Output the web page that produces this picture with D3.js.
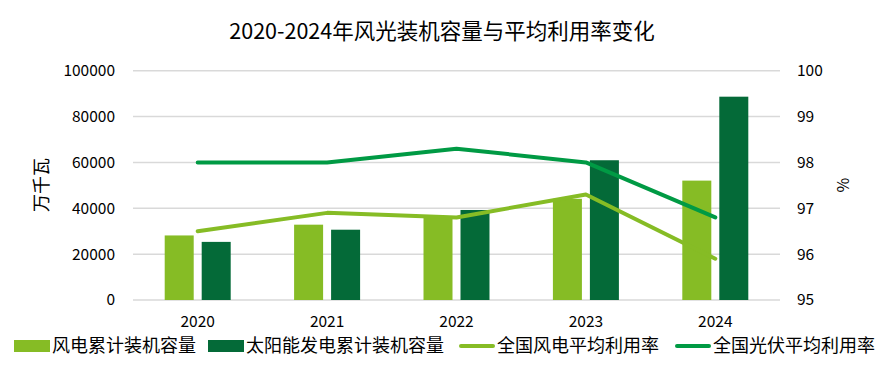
<!DOCTYPE html>
<html>
<head>
<meta charset="utf-8">
<script src="https://cdn.jsdelivr.net/npm/d3@7"></script>
<style>
  body { margin: 0; background: #fff; }
  text { font-family: "Noto Sans CJK SC", "Liberation Sans", sans-serif; fill: #000; }
</style>
</head>
<body>
<div id="chart"></div>
<script>
// Data
var years = ["2020", "2021", "2022", "2023", "2024"];
var windCapacity = [28153, 32848, 36544, 44134, 52068];
var solarCapacity = [25343, 30656, 39261, 60949, 88666];
var windRate = [96.5, 96.9, 96.8, 97.3, 95.9];
var solarRate = [98.0, 98.0, 98.3, 98.0, 96.8];
var leftTicks = [0, 20000, 40000, 60000, 80000, 100000];
var rightTicks = [95, 96, 97, 98, 99, 100];
var seriesNames = ["风电累计装机容量", "太阳能发电累计装机容量", "全国风电平均利用率", "全国光伏平均利用率"];

var svgWidth = 882;
var svgHeight = 378;

var margin = { top: 70.7, bottom: 78, left: 133, right: 102 };
var width = svgWidth - margin.left - margin.right;
var height = svgHeight - margin.top - margin.bottom;

var colWind = "#86bc25";
var colSolar = "#046a38";
var colPv = "#009a44";

var svg = d3.select("#chart")
    .append("svg")
    .attr("width", svgWidth)
    .attr("height", svgHeight);

// Title
svg.append("text")
    .attr("x", 442)
    .attr("y", 39)
    .attr("text-anchor", "middle")
    .attr("font-size", "21.5px")
    .text("2020-2024年风光装机容量与平均利用率变化");

var chartGroup = svg.append("g")
    .attr("transform", `translate(${margin.left}, ${margin.top})`);

// Scales
var x0 = d3.scaleBand()
    .domain(years)
    .range([0, width])
    .paddingInner(0.49)
    .paddingOuter(0.245);

var x1 = d3.scaleBand()
    .domain(["wind", "solar"])
    .range([0, x0.bandwidth()])
    .paddingInner(0.216);

var yLeft = d3.scaleLinear().domain([0, 100000]).range([height, 0]);
var yRight = d3.scaleLinear().domain([95, 100]).range([height, 0]);

// Gridlines
chartGroup.append("g")
    .selectAll("line")
    .data(leftTicks)
    .enter()
    .append("line")
    .attr("x1", 0)
    .attr("x2", width)
    .attr("y1", d => yLeft(d))
    .attr("y2", d => yLeft(d))
    .attr("stroke", "#d9d9d9")
    .attr("stroke-width", 1.5);

// Left axis
var leftAxis = d3.axisLeft(yLeft).tickValues(leftTicks).tickSize(0).tickPadding(18).tickFormat(d3.format("d"));
var yAxisL = chartGroup.append("g").call(leftAxis);
yAxisL.select(".domain").remove();
yAxisL.selectAll("text").attr("font-size", "15.5px");

// Right axis
var rightAxis = d3.axisRight(yRight).tickValues(rightTicks).tickSize(0).tickPadding(17).tickFormat(d3.format("d"));
var yAxisR = chartGroup.append("g").attr("transform", `translate(${width}, 0)`).call(rightAxis);
yAxisR.select(".domain").remove();
yAxisR.selectAll("text").attr("font-size", "15.5px");

// Bottom axis
var bottomAxis = d3.axisBottom(x0).tickSize(0).tickPadding(16);
var xAxis = chartGroup.append("g").attr("transform", `translate(0, ${height})`).call(bottomAxis);
xAxis.select(".domain").remove();
xAxis.selectAll("text").attr("font-size", "15.5px");

// Axis titles
svg.append("text")
    .attr("transform", "translate(48, 185) rotate(-90)")
    .attr("text-anchor", "middle")
    .attr("font-size", "18px")
    .text("万千瓦");

svg.append("text")
    .attr("transform", "translate(849, 185) rotate(-90)")
    .attr("text-anchor", "middle")
    .attr("font-size", "16px")
    .text("%");

// Bars
var barData = years.map((y, i) => ({ year: y, wind: windCapacity[i], solar: solarCapacity[i] }));

var groups = chartGroup.append("g")
    .selectAll("g")
    .data(barData)
    .enter()
    .append("g")
    .attr("transform", d => `translate(${x0(d.year)}, 0)`);

groups.selectAll("rect")
    .data(d => [{ key: "wind", value: d.wind }, { key: "solar", value: d.solar }])
    .enter()
    .append("rect")
    .attr("x", d => x1(d.key))
    .attr("y", d => yLeft(d.value))
    .attr("width", x1.bandwidth())
    .attr("height", d => height - yLeft(d.value))
    .attr("fill", d => d.key === "wind" ? colWind : colSolar);

// Lines
var line = d3.line()
    .x((d, i) => x0(years[i]) + x0.bandwidth() / 2)
    .y(d => yRight(d));

chartGroup.append("path")
    .datum(windRate)
    .attr("d", line)
    .attr("fill", "none")
    .attr("stroke", colWind)
    .attr("stroke-width", 4)
    .attr("stroke-linecap", "round")
    .attr("stroke-linejoin", "round");

chartGroup.append("path")
    .datum(solarRate)
    .attr("d", line)
    .attr("fill", "none")
    .attr("stroke", colPv)
    .attr("stroke-width", 4)
    .attr("stroke-linecap", "round")
    .attr("stroke-linejoin", "round");

// Legend
var legendItems = [
    { name: seriesNames[0], type: "rect", color: colWind, x: 14 },
    { name: seriesNames[1], type: "rect", color: colSolar, x: 208 },
    { name: seriesNames[2], type: "line", color: colWind, x: 459 },
    { name: seriesNames[3], type: "line", color: colPv, x: 675 }
];

var legend = svg.append("g").attr("transform", "translate(0, 346)");

legendItems.forEach(function(item) {
    if (item.type === "rect") {
        legend.append("rect")
            .attr("x", item.x)
            .attr("y", -6)
            .attr("width", 36)
            .attr("height", 12)
            .attr("fill", item.color);
    } else {
        legend.append("line")
            .attr("x1", item.x + 2)
            .attr("x2", item.x + 34)
            .attr("y1", 0)
            .attr("y2", 0)
            .attr("stroke", item.color)
            .attr("stroke-width", 4)
            .attr("stroke-linecap", "round");
    }
    legend.append("text")
        .attr("x", item.x + 38)
        .attr("y", 0)
        .attr("dy", "0.35em")
        .attr("font-size", "18px")
        .text(item.name);
});
</script>
</body>
</html>
